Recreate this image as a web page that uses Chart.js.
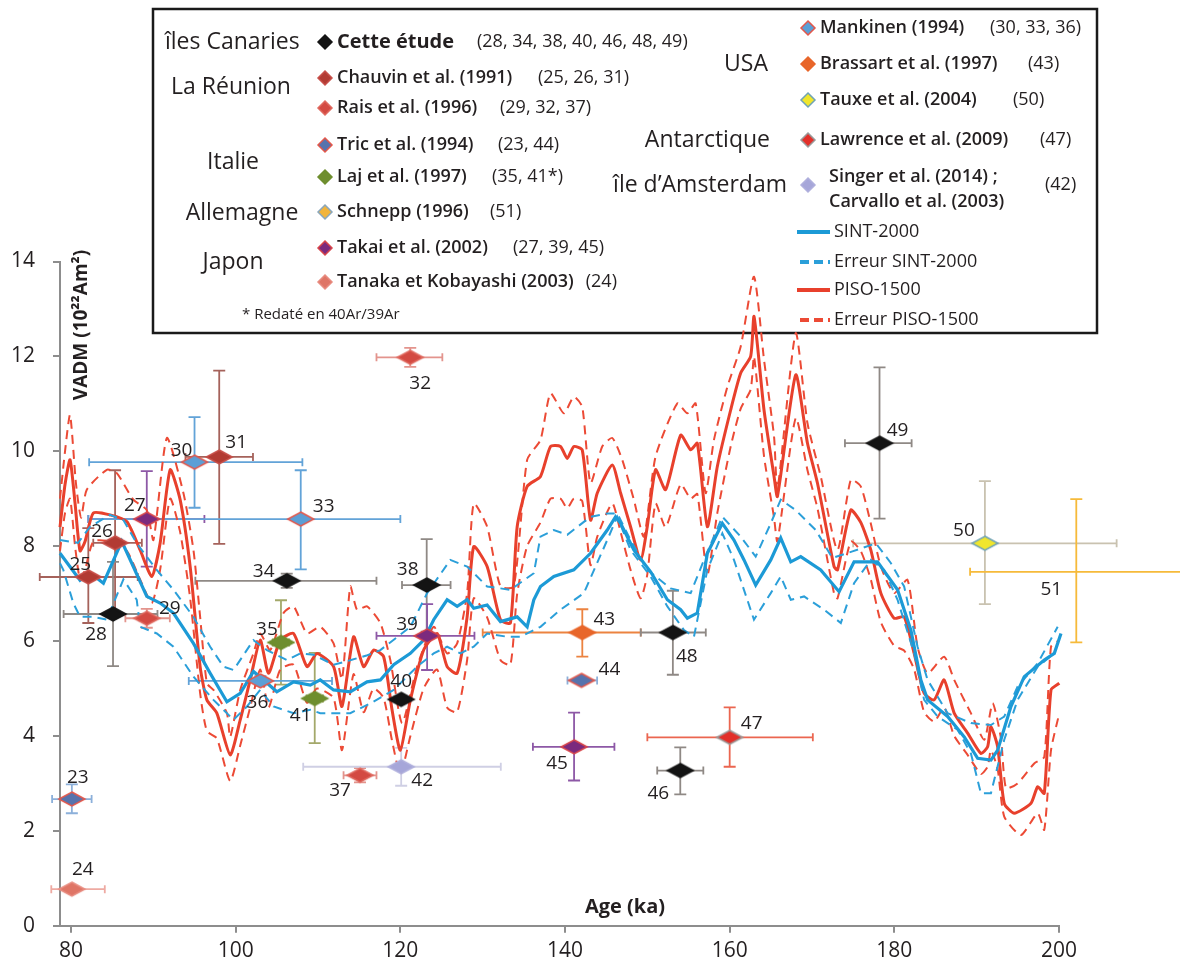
<!DOCTYPE html>
<html>
<head>
<meta charset="utf-8">
<script src="https://cdn.jsdelivr.net/npm/chart.js@4.4.0/dist/chart.umd.min.js"></script>
<style>
  html, body { margin: 0; padding: 0; background: #fff; }
  #wrap { position: relative; width: 1180px; height: 963px; }
</style>
</head>
<body>
<div id="wrap"><canvas id="chart"></canvas></div>
<script>
// ticks
const xTicks = [80, 100, 120, 140, 160, 180, 200];
const yTicks = [0, 2, 4, 6, 8, 10, 12, 14];

// SINT-2000 and its error envelope
const sintAge = [78.66, 81.09, 82.31, 83.93, 86.16, 87.38, 89.2, 90.82, 92.44, 94.87,
  96.9, 98.93, 100.55, 102.16, 103.38, 105.0, 107.03, 109.06, 110.27, 111.89,
  113.92, 115.95, 117.57, 119.19, 121.22, 122.83, 124.05, 125.68, 126.9, 128.11,
  128.91, 130.54, 132.16, 134.19, 135.4, 136.21, 137.02, 138.64, 141.07, 143.1,
  145.13, 146.14, 146.75, 148.36, 150.4, 152.43, 154.05, 154.86, 156.07, 157.29,
  159.11, 160.52, 161.74, 163.16, 164.99, 166.2, 167.42, 168.63, 171.06, 173.29,
  175.11, 177.96, 180.39, 182.01, 183.22, 184.04, 186.47, 188.49, 190.12, 191.74,
  192.55, 194.16, 195.78, 198.21, 199.43, 200.24];
const sintVadm = [7.85, 7.28, 7.44, 7.22, 8.10, 7.64, 6.94, 6.80, 6.59, 5.95,
  5.32, 4.72, 4.90, 5.36, 5.18, 4.93, 5.14, 5.07, 5.18, 4.97,
  4.93, 5.14, 5.18, 5.50, 5.74, 6.02, 6.45, 6.87, 6.73, 6.87,
  6.69, 6.76, 6.41, 6.51, 6.30, 6.87, 7.15, 7.36, 7.50, 7.85,
  8.34, 8.62, 8.48, 7.92, 7.46, 6.87, 6.66, 6.48, 6.59, 7.85,
  8.48, 8.13, 7.71, 7.18, 7.71, 8.17, 7.67, 7.78, 7.50, 7.04,
  7.67, 7.67, 7.08, 6.23, 5.18, 4.76, 4.41, 3.98, 3.53, 3.49,
  3.70, 4.62, 5.25, 5.60, 5.74, 6.16];

const sintHiAge = [78.66, 80.85, 82.31, 84.74, 86.36, 87.98, 90.41, 92.44, 94.87, 96.9,
  98.52, 99.74, 102.16, 103.79, 106.22, 107.84, 109.46, 111.9, 114.0, 116.0,
  117.57, 121.22, 123.25, 126.07, 128.11, 130.54, 133.37, 136.21, 137.02, 138.64,
  140.27, 143.1, 145.13, 146.35, 147.96, 149.99, 152.83, 155.26, 156.88, 159.11,
  161.34, 163.16, 164.99, 166.2, 168.02, 170.45, 172.47, 174.91, 177.76, 179.59,
  181.19, 182.82, 184.04, 186.47, 189.3, 191.73, 193.35, 194.97, 197.41, 199.84];
const sintHiVadm = [8.13, 8.07, 8.41, 8.66, 8.55, 8.06, 7.50, 7.08, 6.51, 5.88,
  5.46, 5.39, 6.02, 5.81, 5.60, 5.74, 5.71, 5.50, 5.60, 5.70,
  5.81, 6.30, 7.01, 7.71, 7.57, 7.15, 7.08, 7.43, 8.20, 8.34,
  8.24, 8.62, 8.69, 8.69, 8.13, 7.50, 7.11, 7.01, 7.71, 8.62,
  8.20, 7.78, 8.48, 8.98, 8.76, 8.34, 7.75, 7.89, 8.06, 7.64,
  7.15, 5.88, 5.18, 4.48, 4.27, 4.23, 4.41, 5.04, 5.53, 6.30];

const sintLoAge = [78.66, 79.06, 80.28, 81.09, 82.71, 84.34, 86.36, 87.98, 88.39, 90.42,
  92.44, 94.87, 97.3, 99.73, 101.36, 102.98, 104.6, 107.03, 109.06, 110.27,
  113.92, 116.5, 119.19, 122.03, 124.05, 125.68, 127.3, 128.91, 130.54, 132.97,
  134.59, 136.21, 137.02, 139.45, 142.29, 145.13, 146.35, 147.96, 150.4, 152.43,
  154.45, 155.66, 157.29, 159.11, 160.52, 162.95, 164.99, 166.2, 167.42, 169.04,
  171.47, 173.5, 175.11, 177.14, 178.76, 180.39, 182.41, 183.62, 185.25, 187.68,
  189.3, 190.52, 191.73, 193.35, 194.97, 197.41, 199.43];
const sintLoVadm = [7.64, 7.50, 6.80, 6.51, 6.51, 6.45, 7.30, 6.87, 6.30, 6.16,
  5.88, 5.25, 4.76, 4.34, 4.62, 4.97, 4.62, 4.48, 4.55, 4.48,
  4.48, 4.70, 4.97, 5.46, 5.74, 5.88, 5.74, 5.88, 6.16, 6.09,
  6.09, 6.23, 6.30, 6.66, 7.01, 8.13, 8.62, 7.92, 7.36, 6.73,
  6.23, 6.09, 7.50, 8.27, 7.71, 6.45, 7.01, 7.36, 6.87, 6.94,
  6.66, 6.38, 7.22, 7.71, 7.50, 6.87, 5.74, 4.76, 4.41, 4.13,
  3.63, 2.79, 2.79, 3.92, 4.76, 5.46, 5.74];

// PISO-1500 and its error envelope
const pisoAge = [78.66, 79.27, 79.88, 80.49, 81.09, 81.7, 82.71, 84.74, 86.77, 88.39,
  89.81, 90.82, 92.04, 93.25, 94.47, 95.68, 96.5, 97.71, 99.33, 100.55,
  101.76, 102.98, 103.99, 105.41, 107.03, 108.66, 109.87, 111.89, 112.91, 114.32,
  115.54, 116.75, 117.97, 118.99, 120.0, 121.22, 122.83, 124.46, 125.68, 126.9,
  128.11, 128.91, 130.54, 132.16, 133.37, 134.19, 135.4, 137.02, 138.24, 139.45,
  140.27, 141.07, 142.09, 143.1, 143.92, 145.74, 146.75, 147.96, 149.18, 149.99,
  151.0, 152.22, 154.05, 155.26, 156.07, 157.29, 158.5, 160.12, 161.34, 162.55,
  162.96, 164.17, 165.39, 165.8, 168.02, 169.45, 170.66, 172.68, 173.1, 174.71,
  175.92, 177.14, 178.36, 179.97, 181.19, 182.41, 183.62, 184.84, 186.05, 187.27,
  188.9, 190.52, 191.33, 191.73, 192.55, 193.35, 194.57, 196.6, 197.41, 198.21,
  199.03, 200.04];
const pisoVadm = [8.4, 9.3, 9.82, 8.9, 7.9, 8.1, 8.7, 8.66, 8.52, 7.92,
  7.36, 8.06, 9.61, 8.98, 7.57, 5.46, 4.76, 4.48, 3.6, 4.34,
  5.18, 6.02, 5.32, 6.02, 6.16, 5.46, 5.74, 5.46, 4.62, 6.09,
  5.46, 5.81, 5.67, 4.55, 3.7, 4.76, 5.81, 6.16, 5.46, 5.32,
  6.51, 7.99, 7.57, 6.45, 6.38, 8.41, 9.26, 9.47, 10.1, 10.1,
  9.85, 10.1, 10.03, 8.55, 9.12, 9.71, 9.12, 8.41, 7.71, 8.41,
  9.61, 9.19, 10.34, 10.03, 10.17, 8.41, 9.68, 10.87, 11.65, 12.0,
  12.84, 10.87, 9.47, 9.05, 11.61, 10.17, 9.33, 7.57, 7.5, 8.76,
  8.5, 7.92, 7.01, 6.48, 6.51, 5.74, 4.9, 4.76, 5.18, 4.48,
  4.06, 3.63, 3.77, 4.2, 3.77, 2.58, 2.37, 2.58, 2.93, 2.79,
  4.97, 5.11];

const pisoHiAge = [78.66, 79.27, 79.88, 80.61, 81.22, 81.91, 84.34, 85.56, 87.57, 89.2,
  90.01, 91.64, 93.65, 94.87, 95.68, 96.5, 97.3, 98.93, 99.33, 100.55,
  102.16, 102.98, 104.19, 105.81, 107.03, 108.66, 110.27, 111.89, 112.91, 113.92,
  114.74, 115.95, 117.57, 118.78, 120.21, 122.03, 124.05, 125.68, 126.9, 128.11,
  128.91, 130.54, 132.16, 133.78, 135.4, 137.02, 138.24, 139.86, 141.07, 142.09,
  143.1, 144.52, 145.74, 146.95, 148.36, 149.58, 151.0, 153.64, 154.86, 155.87,
  157.08, 158.09, 159.72, 161.34, 162.95, 164.17, 165.39, 165.8, 168.02, 169.45,
  171.06, 173.09, 174.71, 175.92, 177.14, 178.36, 179.97, 181.6, 182.82, 184.04,
  186.05, 187.27, 189.3, 190.92, 191.94, 192.95, 193.56, 194.97, 196.99, 198.21,
  199.03, 200.04];
const pisoHiVadm = [9.0, 10.0, 10.77, 9.3, 8.6, 9.19, 9.61, 9.54, 8.98, 8.76,
  8.13, 10.28, 9.12, 7.92, 6.51, 5.11, 4.97, 4.48, 3.98, 4.97,
  5.74, 6.16, 5.81, 6.59, 6.73, 6.16, 6.3, 5.95, 5.2, 7.15,
  6.66, 6.73, 6.38, 5.6, 4.27, 5.46, 6.3, 5.74, 5.95, 7.01,
  8.9, 8.41, 7.15, 7.15, 9.82, 10.24, 11.22, 10.8, 11.15, 10.94,
  9.33, 10.1, 10.28, 9.82, 8.98, 8.2, 9.89, 11.01, 10.8, 11.01,
  9.12, 10.24, 11.36, 12.21, 13.68, 11.93, 10.31, 9.19, 12.49, 10.59,
  9.47, 7.92, 9.4, 9.26, 8.48, 7.57, 7.01, 7.29, 5.88, 5.32,
  5.67, 5.18, 4.48, 3.92, 4.69, 3.95, 2.9, 3.0, 3.42, 3.56,
  5.88, 6.02];

const pisoLoAge = [78.66, 79.27, 79.88, 80.49, 81.09, 81.7, 82.71, 84.74, 86.77, 88.39,
  89.81, 90.82, 92.04, 93.25, 94.47, 95.68, 96.5, 97.71, 99.33, 100.55,
  101.76, 102.98, 103.99, 105.41, 107.03, 108.66, 109.87, 111.89, 112.91, 114.32,
  115.54, 116.75, 117.97, 118.99, 120.0, 121.22, 122.83, 124.46, 125.68, 126.9,
  128.11, 128.91, 130.54, 132.16, 133.37, 134.19, 135.4, 137.02, 138.24, 139.45,
  140.27, 141.07, 142.09, 143.1, 143.92, 145.74, 146.75, 147.96, 149.18, 149.99,
  151.0, 152.22, 154.05, 155.26, 156.07, 157.29, 158.5, 160.12, 161.34, 162.55,
  162.96, 164.17, 165.39, 165.8, 168.02, 169.45, 170.66, 172.68, 173.1, 174.71,
  175.92, 177.14, 178.36, 179.97, 181.19, 182.41, 183.62, 184.84, 186.05, 187.27,
  188.9, 190.52, 191.33, 191.73, 192.55, 193.35, 195.38, 197.41, 198.21, 199.03,
  200.04];
const pisoLoVadm = [7.9, 8.7, 9.0, 8.0, 7.3, 7.5, 8.1, 8.1, 7.9, 7.3,
  6.8, 7.5, 9.0, 8.3, 6.9, 4.9, 4.1, 3.95, 3.05, 3.8,
  4.6, 5.4, 4.6, 5.4, 5.5, 4.7, 5.0, 4.8, 3.7, 5.3,
  4.5, 5.0, 4.8, 3.9, 3.2, 4.0, 5.0, 5.4, 4.6, 4.5,
  5.6, 6.9, 6.5, 5.6, 5.5, 7.0, 8.0, 8.5, 9.0, 9.0,
  8.8, 9.0, 8.95, 7.6, 8.2, 8.9, 8.3, 7.5, 6.9, 7.4,
  8.9, 8.4, 9.3, 9.0, 9.1, 7.4, 8.7, 10.1, 10.9, 11.3,
  12.0, 9.9, 8.6, 8.1, 10.7, 9.6, 8.8, 7.0, 6.9, 8.1,
  7.9, 7.3, 6.4, 5.9, 5.8, 5.4, 4.5, 4.3, 4.6, 4.0,
  3.6, 3.2, 3.35, 3.7, 3.3, 2.3, 1.91, 2.37, 2.02, 3.7,
  4.48];

// paleointensity sites
const pointId = [23, 24, 25, 26, 27, 28, 29, 30, 31, 32, 33, 34, 35, 36, 37, 38, 39, 40, 41, 42, 43, 44, 45, 46, 47, 48, 49, 50, 51];
const pointSource = ['tric', 'tanaka', 'chauvin', 'chauvin', 'takai', 'cette', 'rais', 'mankinen', 'chauvin', 'rais',
  'mankinen', 'cette', 'laj', 'mankinen', 'rais', 'cette', 'takai', 'cette', 'laj', 'singer',
  'brassart', 'tric', 'takai', 'cette', 'lawrence', 'cette', 'cette', 'tauxe', 'schnepp'];
const pointAge = [80.1, 80.1, 82.1, 85.35, 89.2, 85.1, 89.2, 95.0, 98.0, 121.2,
  107.9, 106.2, 105.5, 103.0, 115.1, 123.2, 123.25, 120.1, 109.6, 120.1,
  142.1, 142.0, 141.1, 154.0, 160.0, 153.1, 178.2, 191.0, 202.1];
const pointVadm = [2.67, 0.77, 7.35, 8.07, 8.57, 6.57, 6.48, 9.77, 9.88, 11.98,
  8.57, 7.27, 5.97, 5.16, 3.17, 7.18, 6.11, 4.77, 4.79, 3.35,
  6.18, 5.17, 3.77, 3.27, 3.97, 6.18, 10.17, 8.06, 7.46];
const ageLow = [77.7, 77.6, 76.2, 82.7, 82.1, 79.1, 86.6, 82.2, 93.9, 117.1,
  82.1, 95.1, 104.5, 94.3, 113.1, 120.2, 117.1, 120.1, 108.6, 108.2,
  130.0, 140.3, 136.1, 151.2, 150.0, 149.2, 174.0, 175.0, 189.2];
const ageHigh = [82.5, 84.1, 88.1, 88.6, 96.2, 90.5, 92.0, 108.1, 102.1, 125.1,
  120.0, 117.1, 106.5, 111.7, 117.1, 126.1, 129.0, 120.1, 110.6, 132.2,
  149.2, 143.9, 146.0, 156.8, 170.1, 157.1, 182.1, 207.0, 215.0];
const vadmLow = [2.37, 0.77, 6.38, 6.55, 7.57, 5.47, 6.28, 8.81, 8.05, 11.78,
  7.51, 7.12, 5.08, 5.06, 3.02, 6.2, 5.39, 4.77, 3.85, 2.95,
  5.67, 5.12, 3.06, 2.77, 3.35, 5.29, 8.58, 6.78, 5.97];
const vadmHigh = [2.98, 0.77, 8.38, 9.6, 9.58, 7.67, 6.68, 10.72, 11.7, 12.18,
  9.6, 7.42, 6.86, 5.26, 3.32, 8.15, 6.78, 4.77, 5.75, 3.75,
  6.67, 5.22, 4.49, 3.76, 4.6, 7.06, 11.77, 9.37, 8.99];

// styles
const sourceStyle = {
  cette:    { fill: '#141414', stroke: '#141414', err: '#8f8985' },
  chauvin:  { fill: '#b23b33', stroke: '#c8504a', err: '#a5625b' },
  rais:     { fill: '#d34a42', stroke: '#e06a60', err: '#e3948d' },
  tric:     { fill: '#5673ad', stroke: '#e4574a', err: '#8cb0da' },
  laj:      { fill: '#6e8e2e', stroke: '#6e8e2e', err: '#a3a86a' },
  schnepp:  { fill: '#f1b43c', stroke: '#8aa7bd', err: '#f6ba3a' },
  takai:    { fill: '#7b2a7e', stroke: '#d8454a', err: '#8d58a6' },
  tanaka:   { fill: '#df7566', stroke: '#e88c80', err: '#eeaaa2' },
  mankinen: { fill: '#5b9fd6', stroke: '#e4574a', err: '#62a3d8' },
  brassart: { fill: '#e8662a', stroke: '#e8662a', err: '#ec8340' },
  tauxe:    { fill: '#f0e62c', stroke: '#6fa3b6', err: '#c9c2b0' },
  lawrence: { fill: '#e2302a', stroke: '#9a9a9a', err: '#eb6650' },
  singer:   { fill: '#a6a6d9', stroke: '#b0b0dd', err: '#cfcfe4' }
};

// label offsets (px) from the marker centre
const labelOffset = {
  23: [6, -21], 24: [11, -20], 25: [-8, -12], 26: [-13, -11], 27: [-12, -14],
  28: [-17, 21], 29: [23, -10], 30: [-13, -12], 31: [17, -14], 32: [10, 26],
  33: [23, -13], 34: [-23, -9], 35: [-14, -13], 36: [-3, 22], 37: [-20, 15],
  38: [-19, -15], 39: [-20, -11], 40: [0, -18], 41: [-14, 17], 42: [21, 14],
  43: [22, -13], 44: [28, -11], 45: [-17, 17], 46: [-22, 23], 47: [22, -14],
  48: [14, 24], 49: [18, -13], 50: [-21, -13], 51: [-25, 18]
};

const legendRegions = [
  ['îles Canaries', 165, 42, 'left'],
  ['La Réunion', 231, 87, 'center'],
  ['Italie', 233, 162, 'center'],
  ['Allemagne', 242, 213, 'center'],
  ['Japon', 233, 262, 'center'],
  ['USA', 768, 64, 'right'],
  ['Antarctique', 770, 140, 'right'],
  ['île d’Amsterdam', 787, 185, 'right']
];
const legendEntries = [
  ['cette', 'Cette étude', '(28, 34, 38, 40, 46, 48, 49)', 325, 42, 477],
  ['chauvin', 'Chauvin et al. (1991)', '(25, 26, 31)', 325, 78, 538],
  ['rais', 'Rais et al. (1996)', '(29, 32, 37)', 325, 108, 500],
  ['tric', 'Tric et al. (1994)', '(23, 44)', 325, 145, 498],
  ['laj', 'Laj et al. (1997)', '(35, 41*)', 325, 177, 492],
  ['schnepp', 'Schnepp (1996)', '(51)', 325, 212, 490],
  ['takai', 'Takai et al. (2002)', '(27, 39, 45)', 325, 248, 513],
  ['tanaka', 'Tanaka et Kobayashi (2003)', '(24)', 325, 282, 585],
  ['mankinen', 'Mankinen (1994)', '(30, 33, 36)', 808, 28, 990],
  ['brassart', 'Brassart et al. (1997)', '(43)', 808, 64, 1028],
  ['tauxe', 'Tauxe et al. (2004)', '(50)', 808, 100, 1013],
  ['lawrence', 'Lawrence et al. (2009)', '(47)', 808, 140, 1040]
];

function diamond(fill, stroke, w, h) {
  const c = document.createElement('canvas');
  c.width = w + 4; c.height = h + 4;
  const g = c.getContext('2d');
  g.beginPath();
  g.moveTo(c.width / 2, 2);
  g.lineTo(c.width - 2, c.height / 2);
  g.lineTo(c.width / 2, c.height - 2);
  g.lineTo(2, c.height / 2);
  g.closePath();
  g.fillStyle = fill; g.fill();
  g.lineWidth = 1.5; g.strokeStyle = stroke; g.stroke();
  return c;
}

const markers = {}, legendMarkers = {};
Object.keys(sourceStyle).forEach(k => {
  markers[k] = diamond(sourceStyle[k].fill, sourceStyle[k].stroke, 26, 14);
  legendMarkers[k] = diamond(sourceStyle[k].fill, sourceStyle[k].stroke, 14, 14);
});

const pairs = (ages, vals) => ages.map((a, i) => ({ x: a, y: vals[i] }));

const FONT = "'Open Sans', 'DejaVu Sans', sans-serif";
const TEXT = '#231f20';

const legendBox = {
  id: 'legendBox',
  beforeDraw(chart) {
    const ctx = chart.ctx;
    ctx.save();
    ctx.fillStyle = '#fff';
    ctx.fillRect(153, 9, 944, 324);
    ctx.lineWidth = 2.5;
    ctx.strokeStyle = '#1a1a1a';
    ctx.strokeRect(153, 9, 944, 324);

    ctx.fillStyle = TEXT;
    ctx.textBaseline = 'middle';
    ctx.font = '23px ' + FONT;
    legendRegions.forEach(([t, x, y, al]) => { ctx.textAlign = al; ctx.fillText(t, x, y); });

    ctx.textAlign = 'left';
    legendEntries.forEach(([src, label, refs, x, y, rx]) => {
      const m = legendMarkers[src];
      ctx.drawImage(m, x - m.width / 2, y - m.height / 2);
      ctx.font = (src === 'cette' ? 'bold 20px ' : '600 18px ') + FONT;
      ctx.fillText(label, x + 12, y);
      const w = ctx.measureText(label).width;
      ctx.font = '18px ' + FONT;
      ctx.fillText(refs, Math.max(rx, x + 12 + w + 12), y);
    });

    // Singer / Carvallo entry
    const sm = legendMarkers.singer;
    ctx.drawImage(sm, 808 - sm.width / 2, 185 - sm.height / 2);
    ctx.font = '600 18px ' + FONT;
    ctx.fillText('Singer et al. (2014) ;', 829, 177);
    ctx.fillText('Carvallo et al. (2003)', 829, 202);
    ctx.font = '18px ' + FONT;
    ctx.fillText('(42)', 1045, 185);

    ctx.font = '15px ' + FONT;
    ctx.fillText('* Redaté en 40Ar/39Ar', 242, 315);

    // line entries
    const lines = [
      ['SINT-2000', '#1c9ad6', [], 232],
      ['Erreur SINT-2000', '#2b9fd9', [9, 5], 262],
      ['PISO-1500', '#e8402c', [], 290],
      ['Erreur PISO-1500', '#ec4a35', [9, 5], 320]
    ];
    lines.forEach(([t, col, dash, y]) => {
      ctx.beginPath();
      ctx.setLineDash(dash);
      ctx.lineWidth = 4;
      ctx.strokeStyle = col;
      ctx.moveTo(dash.length ? 800 : 797, y);
      ctx.lineTo(830, y);
      ctx.stroke();
      ctx.setLineDash([]);
      ctx.font = '18px ' + FONT;
      ctx.fillText(t, 834, y);
    });
    ctx.restore();
  }
};

const errorBars = {
  id: 'errorBars',
  beforeDatasetsDraw(chart) {
    const { ctx, scales: { x, y } } = chart;
    ctx.save();
    ctx.lineWidth = 1.8;
    pointId.forEach((id, i) => {
      ctx.strokeStyle = sourceStyle[pointSource[i]].err;
      const px = x.getPixelForValue(pointAge[i]);
      const py = y.getPixelForValue(pointVadm[i]);
      ctx.beginPath();
      if (ageHigh[i] > ageLow[i]) {
        const x0 = x.getPixelForValue(ageLow[i]), x1 = x.getPixelForValue(ageHigh[i]);
        ctx.moveTo(x0, py); ctx.lineTo(x1, py);
        ctx.moveTo(x0, py - 4); ctx.lineTo(x0, py + 4);
        ctx.moveTo(x1, py - 4); ctx.lineTo(x1, py + 4);
      }
      if (vadmHigh[i] > vadmLow[i]) {
        const y0 = y.getPixelForValue(vadmLow[i]), y1 = y.getPixelForValue(vadmHigh[i]);
        ctx.moveTo(px, y0); ctx.lineTo(px, y1);
        ctx.moveTo(px - 6, y0); ctx.lineTo(px + 6, y0);
        ctx.moveTo(px - 6, y1); ctx.lineTo(px + 6, y1);
      }
      ctx.stroke();
    });
    ctx.restore();
  }
};

const annotations = {
  id: 'annotations',
  afterDatasetsDraw(chart) {
    const { ctx, scales: { x, y } } = chart;
    ctx.save();
    ctx.fillStyle = TEXT;
    ctx.textAlign = 'center';
    ctx.textBaseline = 'middle';
    ctx.font = '19px ' + FONT;
    pointId.forEach((id, i) => {
      const [dx, dy] = labelOffset[id];
      ctx.fillText(String(id), x.getPixelForValue(pointAge[i]) + dx, y.getPixelForValue(pointVadm[i]) + dy);
    });

    ctx.font = 'bold 20px ' + FONT;
    ctx.fillText('Age (ka)', 625, 907);

    ctx.translate(82, 325);
    ctx.rotate(-Math.PI / 2);
    ctx.font = 'bold 19px ' + FONT;
    ctx.fillText('VADM (10²²Am²)', 0, 0);
    ctx.restore();
  }
};

const axisGrey = '#8d8d8d';

new Chart(document.getElementById('chart'), {
  type: 'scatter',
  data: {
    datasets: [
      {
        label: 'sites',
        data: pairs(pointAge, pointVadm),
        pointStyle: pointSource.map(s => markers[s]),
        pointRadius: 10,
        clip: false,
        order: 0
      },
      {
        label: 'SINT-2000',
        data: pairs(sintAge, sintVadm),
        showLine: true, pointRadius: 0, tension: 0,
        borderColor: '#1c9ad6', borderWidth: 3.2,
        clip: false, order: 1
      },
      {
        label: 'Erreur SINT-2000 +',
        data: pairs(sintHiAge, sintHiVadm),
        showLine: true, pointRadius: 0, tension: 0,
        borderColor: '#2b9fd9', borderWidth: 2, borderDash: [9, 6],
        clip: false, order: 2
      },
      {
        label: 'Erreur SINT-2000 -',
        data: pairs(sintLoAge, sintLoVadm),
        showLine: true, pointRadius: 0, tension: 0,
        borderColor: '#2b9fd9', borderWidth: 2, borderDash: [9, 6],
        clip: false, order: 2
      },
      {
        label: 'PISO-1500',
        data: pairs(pisoAge, pisoVadm),
        showLine: true, pointRadius: 0, tension: 0.2,
        borderColor: '#e8402c', borderWidth: 3,
        clip: false, order: 3
      },
      {
        label: 'Erreur PISO-1500 +',
        data: pairs(pisoHiAge, pisoHiVadm),
        showLine: true, pointRadius: 0, tension: 0.2,
        borderColor: '#ec4a35', borderWidth: 2, borderDash: [9, 6],
        clip: false, order: 4
      },
      {
        label: 'Erreur PISO-1500 -',
        data: pairs(pisoLoAge, pisoLoVadm),
        showLine: true, pointRadius: 0, tension: 0.2,
        borderColor: '#ec4a35', borderWidth: 2, borderDash: [9, 6],
        clip: false, order: 4
      }
    ]
  },
  options: {
    responsive: true,
    maintainAspectRatio: false,
    animation: false,
    events: [],
    layout: { padding: { top: 261.5, right: 121, left: 0, bottom: 0 } },
    plugins: { legend: { display: false }, tooltip: { enabled: false } },
    scales: {
      x: {
        type: 'linear',
        min: 78.66,
        max: 200,
        afterBuildTicks: s => { s.ticks = xTicks.map(v => ({ value: v })); },
        afterFit: s => { s.height = 37.3; },
        grid: { display: true, drawOnChartArea: false, drawTicks: true, tickLength: 7, color: axisGrey, lineWidth: 2 },
        border: { display: true, color: axisGrey, width: 2 },
        ticks: { color: TEXT, padding: 6, font: { family: FONT, size: 21 }, maxRotation: 0 }
      },
      y: {
        min: 0,
        max: 14,
        afterBuildTicks: s => { s.ticks = yTicks.map(v => ({ value: v })); },
        afterFit: s => { s.width = 60; },
        grid: { display: true, drawOnChartArea: false, drawTicks: true, tickLength: 7, color: axisGrey, lineWidth: 2 },
        border: { display: true, color: axisGrey, width: 2 },
        ticks: { color: TEXT, padding: 18, font: { family: FONT, size: 21 } }
      }
    }
  },
  plugins: [legendBox, errorBars, annotations]
});
</script>
</body>
</html>
